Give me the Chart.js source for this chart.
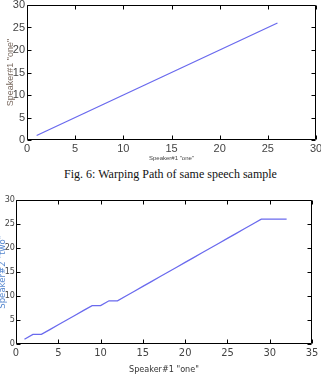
<!DOCTYPE html>
<html>
<head>
<meta charset="utf-8">
<script src="https://cdn.jsdelivr.net/npm/chart.js@4.4.1/dist/chart.umd.min.js"></script>
<style>
    html, body { margin: 0; padding: 0; background: #fff; }
    #wrap { position: relative; width: 321px; height: 378px; overflow: hidden; }
    canvas { position: absolute; left: 0; }
    #top-chart { top: 0; }
    #bottom-chart { top: 185px; }
    .caption {
        position: absolute; left: 10px; top: 167px; width: 321px;
        text-align: center; font: 12px "Liberation Serif", "Times New Roman", serif;
        line-height: 14px; color: #111;
    }
</style>
</head>
<body>
<div id="wrap">
    <canvas id="top-chart" width="321" height="165"></canvas>
    <div class="caption">Fig. 6: Warping Path of same speech sample</div>
    <canvas id="bottom-chart" width="321" height="193"></canvas>
</div>
<script>
// === Data: Fig. 6, same speaker ===
const sameX = [1, 2, 3, 4, 5, 6, 7, 8, 9, 10, 11, 12, 13, 14, 15, 16, 17, 18, 19, 20, 21, 22, 23, 24, 25, 26];
const sameY = [1, 2, 3, 4, 5, 6, 7, 8, 9, 10, 11, 12, 13, 14, 15, 16, 17, 18, 19, 20, 21, 22, 23, 24, 25, 26];

// === Data: speaker #1 vs speaker #2 ===
const crossX = [1, 2, 3, 4, 5, 6, 7, 8, 9, 10, 11, 12, 13, 14, 15, 16, 17, 18, 19, 20, 21, 22, 23, 24, 25, 26, 27, 28, 29, 30, 31, 32];
const crossY = [1, 2, 2, 3, 4, 5, 6, 7, 8, 8, 9, 9, 10, 11, 12, 13, 14, 15, 16, 17, 18, 19, 20, 21, 22, 23, 24, 25, 26, 26, 26, 26];

const topXTicks = [0, 5, 10, 15, 20, 25, 30];
const bottomXTicks = [0, 5, 10, 15, 20, 25, 30, 35];
const yTicks = [0, 5, 10, 15, 20, 25, 30];

const LINE_COLOR = "#6a6aee";
const SANS = "'Liberation Sans', Arial, sans-serif";
const COND = "'DejaVu Sans Condensed', 'Liberation Sans', sans-serif";

// === Box round the plot with inward ticks (MATLAB style) ===
const matlabBox = {
    id: "matlabBox",
    afterDraw(chart) {
        const { ctx, chartArea: a, scales } = chart;
        const l = Math.round(a.left) + 0.5, r = Math.round(a.right) - 0.5;
        const t = Math.round(a.top) + 0.5, b = Math.round(a.bottom) - 0.5;
        ctx.save();
        ctx.strokeStyle = "#000";
        ctx.lineWidth = 1;
        ctx.beginPath();
        ctx.rect(l, t, r - l, b - t);
        scales.x.ticks.forEach((tk) => {
            const px = Math.round(scales.x.getPixelForValue(tk.value)) + 0.5;
            ctx.moveTo(px, b); ctx.lineTo(px, b - 4);
            ctx.moveTo(px, t); ctx.lineTo(px, t + 4);
        });
        scales.y.ticks.forEach((tk) => {
            const py = Math.round(scales.y.getPixelForValue(tk.value)) + 0.5;
            ctx.moveTo(l, py); ctx.lineTo(l + 4, py);
            ctx.moveTo(r, py); ctx.lineTo(r - 4, py);
        });
        ctx.stroke();
        ctx.restore();
    },
};

const fixedSize = (w, h) => (s) => {
    if (w !== null) s.width = w;
    if (h !== null) s.height = h;
    s.paddingLeft = 0; s.paddingRight = 0; s.paddingTop = 0; s.paddingBottom = 0;
};

// === Build one warping-path chart ===
const makeChart = (id, cfg) => {
    const ctx = document.getElementById(id).getContext("2d");
    return new Chart(ctx, {
        type: "line",
        data: {
            datasets: [{
                data: cfg.xs.map((x, i) => ({ x: x, y: cfg.ys[i] })),
                borderColor: LINE_COLOR,
                borderWidth: 1.3,
                pointRadius: 0,
                fill: false,
                tension: 0,
            }],
        },
        options: {
            responsive: false,
            animation: false,
            layout: { padding: cfg.padding },
            plugins: { legend: { display: false }, tooltip: { enabled: false } },
            scales: {
                x: {
                    type: "linear",
                    min: 0,
                    max: cfg.xTicks[cfg.xTicks.length - 1],
                    afterBuildTicks: (s) => { s.ticks = cfg.xTicks.map((v) => ({ value: v })); },
                    afterFit: fixedSize(null, cfg.xHeight),
                    grid: { display: false, drawTicks: false },
                    border: { display: false },
                    ticks: {
                        autoSkip: false, maxRotation: 0, padding: cfg.xTickPad,
                        color: "#444", font: cfg.xTickFont,
                    },
                    title: {
                        display: true, text: cfg.xTitle, color: cfg.xTitleColor,
                        font: cfg.xTitleFont, padding: cfg.xTitlePad,
                    },
                },
                y: {
                    min: 0,
                    max: 30,
                    afterBuildTicks: (s) => { s.ticks = yTicks.map((v) => ({ value: v })); },
                    afterFit: fixedSize(cfg.yWidth, null),
                    grid: { display: false, drawTicks: false },
                    border: { display: false },
                    ticks: { padding: cfg.yTickPad, color: "#444", font: cfg.yTickFont },
                    title: {
                        display: true, text: cfg.yTitle, color: cfg.yTitleColor,
                        font: cfg.yTitleFont, padding: cfg.yTitlePad,
                    },
                },
            },
        },
        plugins: [matlabBox],
    });
};

makeChart("top-chart", {
    xs: sameX, ys: sameY, xTicks: topXTicks,
    padding: { top: 5, right: 5, left: 0, bottom: 0 },
    xHeight: 25, yWidth: 27,
    xTickPad: 2, yTickPad: 2,
    xTickFont: { family: SANS, size: 11 },
    yTickFont: { family: SANS, size: 11 },
    xTitle: 'Speaker#1 "one"', xTitleColor: "#444",
    xTitleFont: { family: SANS, size: 6, lineHeight: 1 }, xTitlePad: { top: 0, bottom: 4 },
    yTitle: 'Speaker#1 "one"', yTitleColor: "#7a6a60",
    yTitleFont: { family: SANS, size: 9, lineHeight: 1 }, yTitlePad: { top: 6, bottom: 0 },
});

makeChart("bottom-chart", {
    xs: crossX, ys: crossY, xTicks: bottomXTicks,
    padding: { top: 15, right: 9, left: 0, bottom: 0 },
    xHeight: 34, yWidth: 16,
    xTickPad: 3, yTickPad: 1,
    xTickFont: { family: COND, size: 11 },
    yTickFont: { family: COND, size: 9 },
    xTitle: 'Speaker#1 "one"', xTitleColor: "#333",
    xTitleFont: { family: COND, size: 9, lineHeight: 1 }, xTitlePad: { top: 0, bottom: 4 },
    yTitle: 'Speaker#2 "two"', yTitleColor: "#5a8ad0",
    yTitleFont: { family: COND, size: 9.5, lineHeight: 1 }, yTitlePad: { top: -2, bottom: 0 },
});
</script>
</body>
</html>
